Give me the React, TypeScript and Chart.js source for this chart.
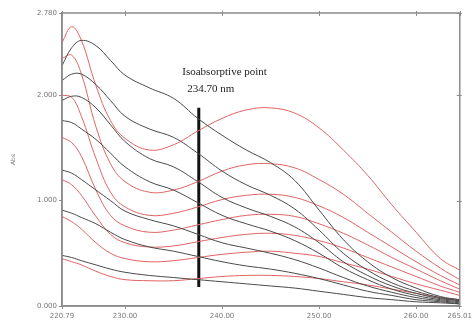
import React, { useEffect, useRef } from "react";
import { Chart, registerables } from "chart.js";
Chart.register(...registerables);

const wavelengths = [223.5, 224.5, 225.5, 227, 228.5, 230, 232.5, 235, 237.5, 240, 242.5, 245, 247.5, 250, 252.5, 255, 257.5, 260, 262.5, 264.5];

const black1 = [2.28, 2.45, 2.52, 2.47, 2.33, 2.19, 2.07, 1.97, 1.78, 1.62, 1.48, 1.36, 1.19, 0.91, 0.63, 0.42, 0.27, 0.17, 0.09, 0.06];
const black2 = [2.14, 2.2, 2.2, 2.1, 1.95, 1.8, 1.68, 1.6, 1.45, 1.28, 1.15, 1.05, 0.92, 0.72, 0.5, 0.34, 0.22, 0.14, 0.08, 0.05];
const black3 = [1.95, 1.99, 1.98, 1.88, 1.72, 1.56, 1.4, 1.32, 1.18, 1.03, 0.93, 0.85, 0.75, 0.6, 0.42, 0.29, 0.19, 0.12, 0.07, 0.05];
const black4 = [1.76, 1.74, 1.68, 1.58, 1.45, 1.32, 1.18, 1.1, 0.98, 0.86, 0.78, 0.71, 0.62, 0.5, 0.36, 0.25, 0.16, 0.1, 0.06, 0.04];
const black5 = [1.29, 1.26, 1.2, 1.1, 1.0, 0.9, 0.82, 0.76, 0.68, 0.6, 0.55, 0.5, 0.44, 0.36, 0.27, 0.19, 0.13, 0.08, 0.05, 0.03];
const black6 = [0.91, 0.88, 0.84, 0.78, 0.7, 0.63, 0.56, 0.52, 0.47, 0.42, 0.38, 0.35, 0.31, 0.26, 0.2, 0.14, 0.1, 0.06, 0.04, 0.02];
const black7 = [0.48, 0.46, 0.43, 0.39, 0.35, 0.32, 0.29, 0.27, 0.25, 0.23, 0.21, 0.19, 0.17, 0.14, 0.11, 0.08, 0.06, 0.04, 0.03, 0.02];

const red1 = [2.5, 2.65, 2.52, 2.09, 1.76, 1.59, 1.48, 1.53, 1.66, 1.78, 1.86, 1.88, 1.83, 1.69, 1.48, 1.24, 0.96, 0.7, 0.45, 0.34];
const red2 = [2.35, 2.38, 2.2, 1.7, 1.35, 1.18, 1.08, 1.1, 1.18, 1.28, 1.34, 1.35, 1.31, 1.2, 1.06, 0.88, 0.7, 0.52, 0.36, 0.25];
const red3 = [2.0, 1.98, 1.8, 1.4, 1.08, 0.94, 0.86, 0.88, 0.94, 1.01, 1.05, 1.06, 1.03, 0.95, 0.84, 0.7, 0.56, 0.42, 0.29, 0.2];
const red4 = [1.6, 1.55, 1.42, 1.1, 0.86, 0.76, 0.7, 0.72, 0.77, 0.82, 0.86, 0.87, 0.85, 0.78, 0.69, 0.58, 0.46, 0.35, 0.24, 0.16];
const red5 = [1.2, 1.15, 1.05, 0.85, 0.68, 0.6, 0.56, 0.57, 0.61, 0.65, 0.68, 0.69, 0.67, 0.62, 0.55, 0.46, 0.37, 0.28, 0.19, 0.13];
const red6 = [0.85, 0.8, 0.73, 0.6, 0.5, 0.45, 0.42, 0.43, 0.46, 0.49, 0.51, 0.52, 0.5, 0.47, 0.41, 0.35, 0.28, 0.21, 0.15, 0.1];
const red7 = [0.45, 0.42, 0.39, 0.33, 0.28, 0.25, 0.24, 0.24, 0.26, 0.28, 0.29, 0.29, 0.28, 0.26, 0.23, 0.2, 0.16, 0.12, 0.08, 0.06];

const blackSeries = [black1, black2, black3, black4, black5, black6, black7];
const redSeries = [red1, red2, red3, red4, red5, red6, red7];

const xTickValues = [223.5, 230, 240, 250, 260, 264.5];
const xTickLabels = ["220.79", "230.00", "240.00", "250.00", "260.00", "265.01"];
const yTickValues = [0, 1, 2, 2.78];
const yTickLabels = ["0.000", "1.000", "2.000", "2.780"];
const yTitle = "Abs";

const isoX = [237.6, 237.6];
const isoY = [0.18, 1.88];
const annotationX = 235.9;
const annotationLines = ["Isoabsorptive point", "234.70 nm"];
const annotationY = [2.22, 2.06];

const BLACK = "#4a4a4a";
const RED = "#e06464";
const AXIS = "#8c8c8c";
const TICK = "#777777";

const framePlugin = {
  id: "frame",
  afterDatasetsDraw(chart: any) {
    const { ctx, chartArea, scales } = chart;
    ctx.save();
    ctx.strokeStyle = AXIS;
    ctx.lineWidth = 1.5;
    ctx.strokeRect(chartArea.left, chartArea.top, chartArea.right - chartArea.left, chartArea.bottom - chartArea.top);
    ctx.lineWidth = 1;
    ctx.beginPath();
    scales.x.ticks.forEach((t: any) => {
      const px = Math.round(scales.x.getPixelForValue(t.value)) + 0.5;
      ctx.moveTo(px, chartArea.top - 2);
      ctx.lineTo(px, chartArea.top + 3);
    });
    scales.y.ticks.forEach((t: any) => {
      const py = Math.round(scales.y.getPixelForValue(t.value)) + 0.5;
      ctx.moveTo(chartArea.right - 3, py);
      ctx.lineTo(chartArea.right + 2, py);
    });
    ctx.stroke();
    ctx.fillStyle = "#222";
    ctx.font = "11px 'Liberation Serif', 'Times New Roman', serif";
    ctx.textBaseline = "middle";
    annotationLines.forEach((t, i) => {
      const px = scales.x.getPixelForValue(annotationX) + (i === 1 ? 5 : 0);
      const py = scales.y.getPixelForValue(annotationY[i]);
      ctx.fillText(t, px, py);
    });
    ctx.restore();
  },
};

export default function App() {
  const ref = useRef<HTMLCanvasElement | null>(null);
  useEffect(() => {
    if (!ref.current) return;
    const datasets: any[] = [];
    blackSeries.forEach((s, i) => {
      datasets.push({
        label: "black" + (i + 1),
        data: wavelengths.map((w, j) => ({ x: w, y: s[j] })),
        borderColor: BLACK,
        borderWidth: 1,
        pointRadius: 0,
        tension: 0.4,
        fill: false,
      });
    });
    redSeries.forEach((s, i) => {
      datasets.push({
        label: "red" + (i + 1),
        data: wavelengths.map((w, j) => ({ x: w, y: s[j] })),
        borderColor: RED,
        borderWidth: 1,
        pointRadius: 0,
        tension: 0.4,
        fill: false,
      });
    });
    datasets.push({
      label: "isosbestic",
      data: isoX.map((x, j) => ({ x, y: isoY[j] })),
      borderColor: "#111",
      borderWidth: 3,
      pointRadius: 0,
      tension: 0,
    });
    const chart = new Chart(ref.current, {
      type: "line",
      data: { datasets },
      plugins: [framePlugin],
      options: {
        animation: false,
        responsive: false,
        maintainAspectRatio: false,
        layout: { padding: { top: 13, right: 13, left: 0, bottom: 0 } },
        plugins: { legend: { display: false }, tooltip: { enabled: false } },
        scales: {
          x: {
            type: "linear",
            min: 223.5,
            max: 264.5,
            afterBuildTicks: (scale: any) => {
              scale.ticks = xTickValues.map((v) => ({ value: v }));
            },
            afterFit: (scale: any) => {
              scale.height = 16;
            },
            ticks: {
              autoSkip: false,
              maxRotation: 0,
              padding: 3,
              color: TICK,
              font: { size: 7, family: "'DejaVu Sans', sans-serif" },
              callback: (_v: any, i: number) => xTickLabels[i],
            },
            grid: { display: true, drawOnChartArea: false, tickLength: 3, color: AXIS },
            border: { display: true, color: AXIS, width: 1.5 },
          },
          y: {
            type: "linear",
            min: 0,
            max: 2.78,
            afterBuildTicks: (scale: any) => {
              scale.ticks = yTickValues.map((v) => ({ value: v }));
            },
            afterFit: (scale: any) => {
              scale.width = 62;
            },
            title: {
              display: true,
              text: yTitle,
              color: TICK,
              font: { size: 6, family: "'DejaVu Sans', sans-serif" },
              padding: { top: 10, bottom: 0 },
            },
            ticks: {
              autoSkip: false,
              padding: 2,
              color: TICK,
              font: { size: 7, family: "'DejaVu Sans', sans-serif" },
              callback: (_v: any, i: number) => yTickLabels[i],
            },
            grid: { display: true, drawOnChartArea: false, tickLength: 3, color: AXIS },
            border: { display: true, color: AXIS, width: 1.5 },
          },
        },
      },
    } as any);
    return () => chart.destroy();
  }, []);
  return (
    <div style={{ position: "fixed", left: 0, top: 0, width: 475, height: 322, background: "#fff" }}>
      <canvas ref={ref} width={475} height={322} style={{ width: 475, height: 322 }} />
    </div>
  );
}
